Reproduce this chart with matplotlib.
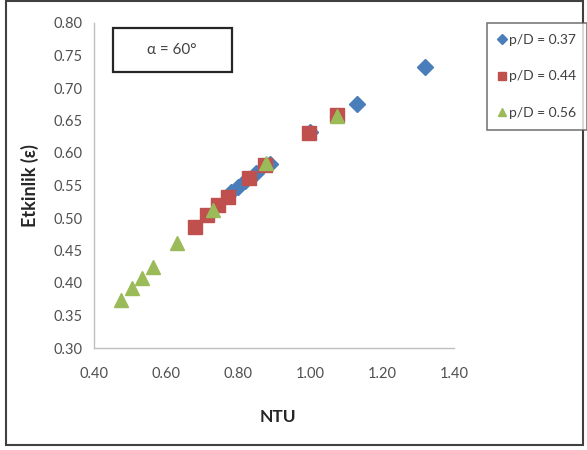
import matplotlib
matplotlib.use("Agg")
import matplotlib.pyplot as plt
from matplotlib.patches import Rectangle

plt.rcParams['font.family'] = ['Lato', 'DejaVu Sans']

# Data
ntu_037 = [0.78, 0.80, 0.82, 0.85, 0.89, 1.00, 1.13, 1.32]
eff_037 = [0.540, 0.548, 0.557, 0.570, 0.583, 0.632, 0.676, 0.733]

ntu_044 = [0.68, 0.714, 0.744, 0.772, 0.83, 0.876, 0.997, 1.075]
eff_044 = [0.486, 0.505, 0.520, 0.532, 0.562, 0.582, 0.631, 0.658]

ntu_056 = [0.475, 0.506, 0.533, 0.564, 0.63, 0.731, 0.878, 1.075]
eff_056 = [0.374, 0.392, 0.408, 0.425, 0.462, 0.512, 0.585, 0.657]

labels = ["p/D = 0.37", "p/D = 0.44", "p/D = 0.56"]
xticks = [0.40, 0.60, 0.80, 1.00, 1.20, 1.40]
yticks = [0.30, 0.35, 0.40, 0.45, 0.50, 0.55, 0.60, 0.65, 0.70, 0.75, 0.80]

W, H = 587, 450
fig = plt.figure(figsize=(W / 100, H / 100), dpi=100)
ax = fig.add_axes([94 / W, 1 - 348 / H, (454 - 94) / W, (348 - 23) / H])

ax.plot(ntu_037, eff_037, linestyle='none', marker='D', ms=8.6,
        color='#4A7EBB', mec='#4A7EBB', label=labels[0], zorder=3)
ax.plot(ntu_044, eff_044, linestyle='none', marker='s', ms=10.5,
        color='#C0504D', mec='#C0504D', label=labels[1], zorder=4)
ax.plot(ntu_056, eff_056, linestyle='none', marker='^', ms=10.5,
        color='#9BBB59', mec='#9BBB59', label=labels[2], zorder=5)

ax.set_xlim(0.40, 1.40)
ax.set_ylim(0.30, 0.80)
ax.set_xticks(xticks)
ax.set_xticklabels([f"{v:.2f}" for v in xticks])
ax.set_yticks(yticks)
ax.set_yticklabels([f"{v:.2f}" for v in yticks])
ax.tick_params(length=0, labelsize=10.5, colors='#505050', pad=8)
ax.tick_params(axis='x', pad=14)
for s in ['top', 'right']:
    ax.spines[s].set_visible(False)
for s in ['left', 'bottom']:
    ax.spines[s].set_color('#BFBFBF')
    ax.spines[s].set_linewidth(1.0)

fig.text(278 / W, 1 - 417 / H, "NTU", ha='center', va='center',
         fontsize=12.5, fontweight='bold', color='#262626')
fig.text(30 / W, 1 - 186 / H, "Etkinlik (ε)", ha='center', va='center',
         rotation=90, fontsize=13, fontweight='bold', color='#262626')

# alpha box
fig.patches.append(Rectangle((113 / W, 1 - 72 / H), (232 - 113) / W, (72 - 28) / H,
                             transform=fig.transFigure, fill=False,
                             edgecolor='#262626', linewidth=1.6))
fig.text(172 / W, 1 - 50 / H, "α = 60°", ha='center', va='center',
         fontsize=11, color='#404040')

# legend
leg = fig.legend(loc='upper left', bbox_to_anchor=(487 / W, 1 - 23 / H),
                 frameon=True, fancybox=False, fontsize=10, markerscale=0.6,
                 handletextpad=0.15, handlelength=0.6, borderpad=0.8,
                 labelspacing=1.75, borderaxespad=0)
leg.get_frame().set_edgecolor('#595959')
leg.get_frame().set_linewidth(1.2)
for t in leg.get_texts():
    t.set_color('#404040')

# outer border
fig.patches.append(Rectangle((6 / W, 1 - 445 / H), (583 - 6) / W, (445 - 1) / H,
                             transform=fig.transFigure, fill=False,
                             edgecolor='#404040', linewidth=1.5))

fig.savefig("out.png", dpi=100)
